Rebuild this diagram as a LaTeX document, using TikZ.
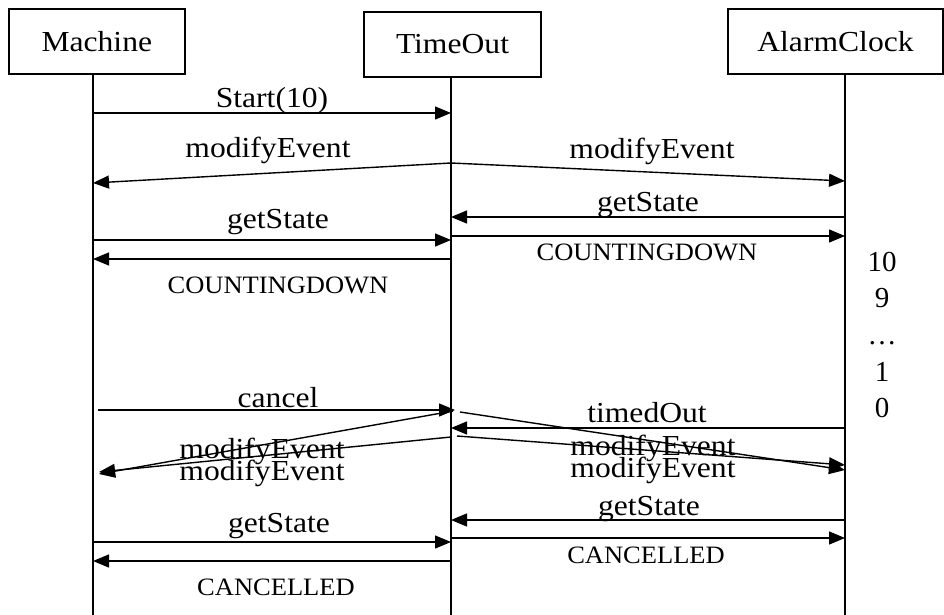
\documentclass[tikz,border=0pt]{standalone}
\usepackage{fontspec}
\setmainfont{Liberation Serif}
\usetikzlibrary{arrows.meta}
\begin{document}
\begin{tikzpicture}[x=1pt,y=-1pt,
  box/.style={draw,line width=1.6pt,inner sep=0pt,font=\fontsize{29}{31}\selectfont,xscale=1.0},
  life/.style={line width=1.4pt},
  msg/.style={line width=1.4pt,-{Triangle[length=16pt,width=13pt]}},
  lbl/.style={anchor=base,inner sep=0pt,font=\fontsize{29}{31}\selectfont,xscale=1.09},
  caps/.style={anchor=base,inner sep=0pt,font=\fontsize{25}{27}\selectfont,xscale=1.06},
  num/.style={anchor=base,inner sep=0pt,font=\fontsize{29}{31}\selectfont}]
\useasboundingbox (0,0) rectangle (944,615);
% participants
\node[box,minimum width=176pt,minimum height=65pt] (machine) at (96.8,41.5) {\scalebox{1.09}[1]{Machine}};
\node[box,minimum width=177pt,minimum height=65pt] (timeout) at (452.5,44.5) {\scalebox{1.09}[1]{TimeOut}};
\node[box,minimum width=215pt,minimum height=65pt] (alarm) at (835.5,41.5) {\scalebox{1.09}[1]{AlarmClock}};
% lifelines
\coordinate (Lm) at (93,74);
\coordinate (Lt) at (451,77);
\coordinate (La) at (845,74);
\coordinate (Em) at (93,615);
\coordinate (Et) at (451,615);
\coordinate (Ea) at (845,615);
\draw[life] (Lm) -- (Em);
\draw[life] (Lt) -- (Et);
\draw[life] (La) -- (Ea);
% Start(10)
\draw[msg] (Lm |- 0,113) -- (Lt |- 0,113);
\node[lbl] (t1) at (272,107) {Start(10)};
% modifyEvent (top)
\coordinate (me) at (451,163);
\coordinate (meL) at (93,183);
\coordinate (meR) at (845,181);
\draw[msg] (me) -- (meL);
\draw[msg] (me) -- (meR);
\node[lbl] (t2) at (268,157) {modifyEvent};
\node[lbl] (t3) at (652,158) {modifyEvent};
% getState / COUNTINGDOWN right
\draw[msg] (La |- 0,217) -- (Lt |- 0,217);
\node[lbl] (t4) at (648,211) {getState};
\draw[msg] (Lt |- 0,236) -- (La |- 0,236);
\node[caps] (t5) at (647,260) {COUNTINGDOWN};
% getState / COUNTINGDOWN left
\draw[msg] (Lm |- 0,240) -- (Lt |- 0,240);
\node[lbl] (t6) at (278,228) {getState};
\draw[msg] (Lt |- 0,259) -- (Lm |- 0,259);
\node[caps] (t7) at (278,293) {COUNTINGDOWN};
% countdown
\node[num] (n10) at (882,271) {10};
\node[num] (n9) at (882,307) {9};
\node[num] (ndots) at (882,344) {…};
\node[num] (n1) at (882,381) {1};
\node[num] (n0) at (882,417) {0};
% cancel
\coordinate (cs) at (98,410);
\coordinate (ce) at (455,410);
\draw[msg] (cs) -- (ce);
\node[lbl] (t8) at (278,407) {cancel};
% timedOut
\draw[msg] (La |- 0,428) -- (Lt |- 0,428);
\node[lbl] (t9) at (647,422) {timedOut};
% crossing modifyEvents
\coordinate (a1) at (460,412);
\coordinate (a2) at (845,470);
\coordinate (b1) at (457,436);
\coordinate (b2) at (845,465);
\coordinate (c1) at (453,411);
\coordinate (c2) at (99,474);
\coordinate (d1) at (451,437);
\coordinate (d2) at (99,472);
\draw[msg] (a1) -- (a2);
\draw[msg] (b1) -- (b2);
\draw[msg] (c1) -- (c2);
\draw[msg] (d1) -- (d2);
\node[lbl] (t10) at (262,458) {modifyEvent};
\node[lbl] (t11) at (262,480) {modifyEvent};
\node[lbl] (t12) at (653,455) {modifyEvent};
\node[lbl] (t13) at (653,477) {modifyEvent};
% bottom
\draw[msg] (La |- 0,520) -- (Lt |- 0,520);
\node[lbl] (t14) at (649,515) {getState};
\draw[msg] (Lt |- 0,538) -- (La |- 0,538);
\node[caps] (t15) at (646,563) {CANCELLED};
\draw[msg] (Lm |- 0,542) -- (Lt |- 0,542);
\node[lbl] (t16) at (279,532) {getState};
\draw[msg] (Lt |- 0,561) -- (Lm |- 0,561);
\node[caps] (t17) at (276,595) {CANCELLED};
\end{tikzpicture}
\end{document}
